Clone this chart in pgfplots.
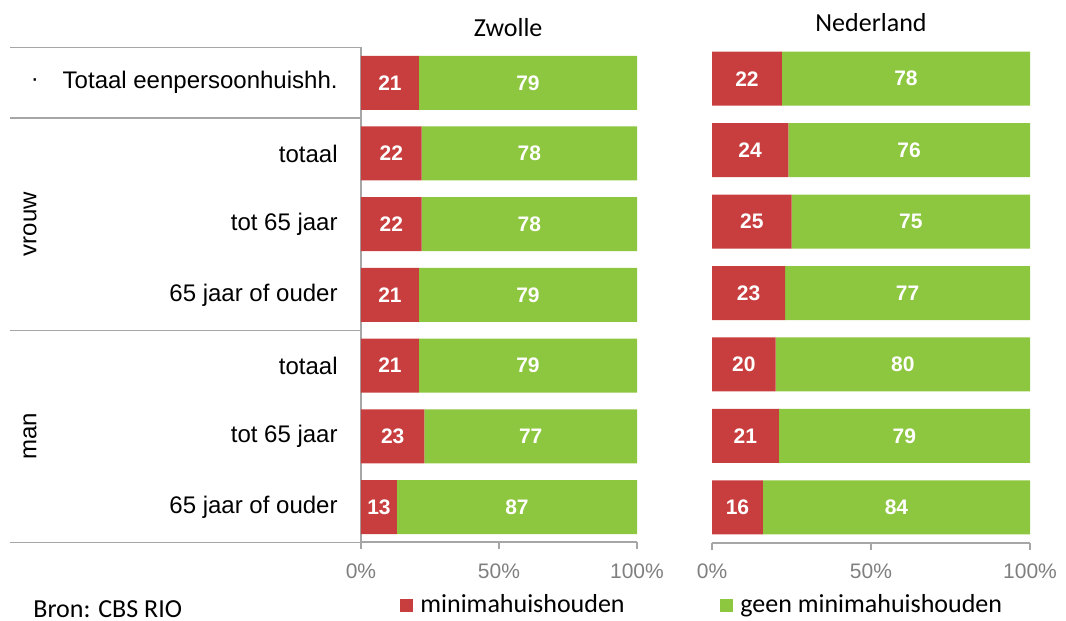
\documentclass[border=0pt]{standalone}
\usepackage{fontspec}
\setmainfont{Liberation Sans}
\newfontfamily\calibri{Carlito}
\usepackage{pgfplots}
\pgfplotsset{compat=1.18}
\usepackage{pgfplotstable}

\definecolor{minred}{HTML}{C83E3E}
\definecolor{geengreen}{HTML}{8DC63F}
\definecolor{linegray}{HTML}{A6A6A6}
\definecolor{tickgray}{HTML}{7F7F7F}

% rij, minimahuishouden (%), geen minimahuishouden (%)
\pgfplotstableread{
rij min geen
1 21 79
2 22 78
3 22 78
4 21 79
5 21 79
6 23 77
7 13 87
}\zwolle
\pgfplotstableread{
rij min geen
1 22 78
2 24 76
3 25 75
4 23 77
5 20 80
6 21 79
7 16 84
}\nederland

\pgfplotsset{
  paneel/.style={
    scale only axis, clip=false,
    xmin=0, xmax=100, ymin=0.5, ymax=7.5, y dir=reverse,
  },
  balken/.style={
    paneel, xbar stacked, bar width=27pt,
    xtick={0,50,100}, xticklabels={0\%,50\%,100\%},
    ytick=\empty,
    axis x line*=bottom,
    axis line style={linegray, line width=1pt, -},
    x tick style={linegray, line width=1pt},
    major tick length=3.5pt, tick align=outside,
    xticklabel shift=3.5pt,
    x tick label style={font=\fontsize{10.5}{12}\selectfont, text=tickgray},
    title style={font=\calibri\fontsize{13}{15}\selectfont, anchor=base},
  },
  getallen/.style={
    paneel, hide axis,
    nodes near coords, point meta=explicit,
    /pgf/number format/assume math mode=true,
    every node near coord/.append style={anchor=center, text=white,
      font=\bfseries\fontsize{10.5}{12}\selectfont},
    legend style={draw=none, fill=none, inner sep=0pt, anchor=west,
      font=\calibri\fontsize{13}{15}\selectfont},
  },
}

\begin{document}
\begin{tikzpicture}
\path[use as bounding box] (0,0) rectangle (533pt,-310.5pt);

% Zwolle
\begin{axis}[balken, at={(180.5pt,-271.2pt)}, anchor=south west,
    width=138pt, height=247.5pt,
    axis y line*=left,
    title=Zwolle, title style={at={(0.533,1)}, yshift=-0.5pt},
    ytick={1,...,7},
    yticklabels={Totaal eenpersoonhuishh., totaal, tot 65 jaar, 65 jaar of ouder, totaal, tot 65 jaar, 65 jaar of ouder},
    y tick style={draw=none},
    yticklabel style={font=\fontsize{12}{14}\selectfont, anchor=east, inner sep=0pt, xshift=-8pt},
  ]
  \addplot[fill=minred, draw=none] table[x=min, y=rij] {\zwolle};
  \addplot[fill=geengreen, draw=none] table[x=geen, y=rij] {\zwolle};
  \draw[linegray, line width=0.75pt] (axis cs:0,0.5) -- ([xshift=-175.5pt]axis cs:0,0.5);
  \draw[linegray, line width=0.75pt] (axis cs:0,1.5) -- ([xshift=-175.5pt]axis cs:0,1.5);
  \draw[linegray, line width=0.75pt] (axis cs:0,4.5) -- ([xshift=-175.5pt]axis cs:0,4.5);
  \draw[linegray, line width=0.75pt] (axis cs:0,7.5) -- ([xshift=-175.5pt]axis cs:0,7.5);
  \node[font=\fontsize{12}{14}\selectfont] at ([xshift=-163pt]axis cs:0,1) {·};
  \node[rotate=90, font=\fontsize{12}{14}\selectfont] at ([xshift=-165.5pt]axis cs:0,3) {vrouw};
  \node[rotate=90, font=\fontsize{12}{14}\selectfont] at ([xshift=-165.5pt]axis cs:0,6) {man};
\end{axis}
\begin{axis}[getallen, at={(180.5pt,-271.2pt)}, anchor=south west,
    width=138pt, height=247.5pt,
    legend style={at={(0.1413,-0.1273)}},
    legend image code/.code={
      \fill[minred] (0pt,-3.25pt) rectangle (6.5pt,3.25pt);
      \path (0pt,0pt) -- (8pt,0pt);}]
  \addplot[draw=none] table[x expr=\thisrow{min}/2, y=rij, meta=min] {\zwolle};
  \addplot[draw=none] table[x expr=\thisrow{min}+\thisrow{geen}/2, y=rij, meta=geen] {\zwolle};
  \addlegendimage{fill=minred, draw=none}
  \addlegendentry{minimahuishouden}
\end{axis}

% Nederland
\begin{axis}[balken, at={(356pt,-271.5pt)}, anchor=south west,
    width=159pt, height=250pt,
    axis y line=none,
    title=Nederland, title style={at={(0.5,1)}, yshift=0pt},
  ]
  \addplot[fill=minred, draw=none] table[x=min, y=rij] {\nederland};
  \addplot[fill=geengreen, draw=none] table[x=geen, y=rij] {\nederland};
\end{axis}
\begin{axis}[getallen, at={(356pt,-271.5pt)}, anchor=south west,
    width=159pt, height=250pt,
    legend style={at={(0.0252,-0.124)}},
    legend image code/.code={
      \fill[geengreen] (0pt,-3.25pt) rectangle (6.5pt,3.25pt);
      \path (0pt,0pt) -- (8pt,0pt);}]
  \addplot[draw=none] table[x expr=\thisrow{min}/2, y=rij, meta=min] {\nederland};
  \addplot[draw=none] table[x expr=\thisrow{min}+\thisrow{geen}/2, y=rij, meta=geen] {\nederland};
  \addlegendimage{fill=geengreen, draw=none}
  \addlegendentry{geen minimahuishouden}
\end{axis}

\node[anchor=base west, inner sep=0pt, font=\calibri\fontsize{13}{15}\selectfont] at (16.5pt,-308.5pt) {Bron: CBS RIO};
\end{tikzpicture}
\end{document}
